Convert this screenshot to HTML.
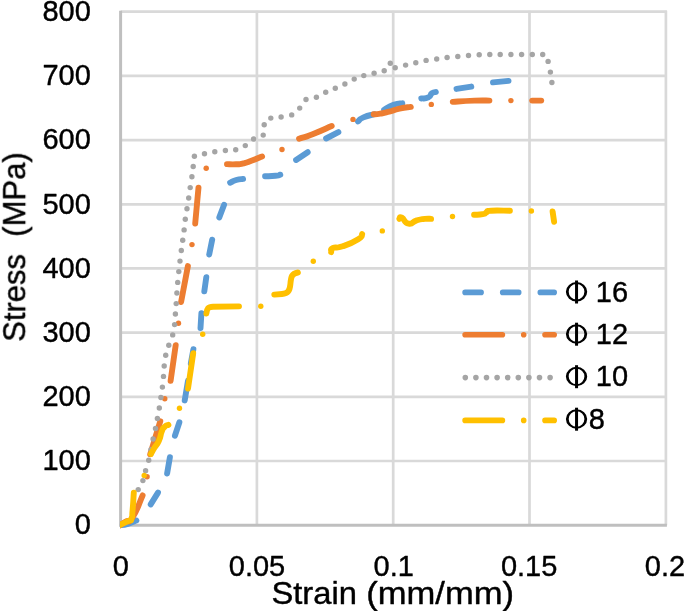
<!DOCTYPE html>
<html><head><meta charset="utf-8"><title>Stress-Strain</title>
<style>html,body{margin:0;padding:0;background:#fff}svg{display:block}text{font-family:"Liberation Sans",sans-serif;fill:#000;stroke:#000;stroke-width:0.4px;stroke-linejoin:round}</style></head><body>
<svg width="685" height="611" viewBox="0 0 685 611">
<rect width="685" height="611" fill="#fff"/>
<g stroke="#D9D9D9" stroke-width="2.7" fill="none"><line x1="120.6" y1="461.0" x2="666.9" y2="461.0"/><line x1="120.6" y1="396.8" x2="666.9" y2="396.8"/><line x1="120.6" y1="332.6" x2="666.9" y2="332.6"/><line x1="120.6" y1="268.4" x2="666.9" y2="268.4"/><line x1="120.6" y1="204.3" x2="666.9" y2="204.3"/><line x1="120.6" y1="140.1" x2="666.9" y2="140.1"/><line x1="120.6" y1="75.9" x2="666.9" y2="75.9"/><line x1="120.6" y1="11.7" x2="666.9" y2="11.7"/><line x1="256.9" y1="10.7" x2="256.9" y2="525.2"/><line x1="393.2" y1="10.7" x2="393.2" y2="525.2"/><line x1="529.5" y1="10.7" x2="529.5" y2="525.2"/><line x1="665.9" y1="10.7" x2="665.9" y2="525.2"/></g>
<g stroke="#BFBFBF" stroke-width="3.0" fill="none"><line x1="120.6" y1="10.7" x2="120.6" y2="526.6"/><line x1="119.2" y1="525.2" x2="666.9" y2="525.2"/></g>
<defs><clipPath id="pc"><rect x="119.9" y="0" width="560" height="532"/></clipPath></defs><g clip-path="url(#pc)">
<g fill="none" stroke-width="5.9" stroke-linecap="round" stroke-linejoin="round">
<path d="M118.7 525.5 C121.8 524.9 122.1 525.5 128.0 523.8 C133.9 522.1 133.6 521.6 136.4 520.5" stroke="#5B9BD5"/>
<path d="M150.7 504.4 L158.0 492.6" stroke="#5B9BD5"/>
<path d="M167.1 473.6 L169.9 457.2" stroke="#5B9BD5"/>
<path d="M174.9 435.8 L179.4 422.2" stroke="#5B9BD5"/>
<path d="M184.7 400.4 L188.0 380.8" stroke="#5B9BD5"/>
<path d="M190.8 363.6 L193.4 349.2" stroke="#5B9BD5"/>
<path d="M200.5 328.1 L201.4 313.2" stroke="#5B9BD5"/>
<path d="M204.3 291.3 L206.3 277.1" stroke="#5B9BD5"/>
<path d="M209.2 254.5 L212.2 239.7" stroke="#5B9BD5"/>
<path d="M219.3 217.4 L224.1 204.8" stroke="#5B9BD5"/>
<path d="M230.1 182.7 C232.2 181.8 231.9 181.3 236.2 180.0 C240.5 178.7 240.8 179.3 243.1 178.9" stroke="#5B9BD5"/>
<path d="M265.1 176.3 C268.6 176.1 270.4 176.3 275.5 175.8 C280.6 175.3 278.7 175.1 280.3 174.7" stroke="#5B9BD5"/>
<path d="M296.1 160.0 L307.7 152.2" stroke="#5B9BD5"/>
<path d="M326.1 138.5 L338.4 132.2" stroke="#5B9BD5"/>
<path d="M358.0 121.4 C359.8 120.1 358.0 119.8 363.5 117.4 C369.0 115.0 370.7 115.3 374.3 114.2" stroke="#5B9BD5"/>
<path d="M384.1 109.9 C387.3 108.2 387.5 107.0 393.6 104.8 C399.7 102.6 399.4 103.8 402.3 103.3" stroke="#5B9BD5"/>
<path d="M421.3 98.5 C423.6 98.1 424.7 99.2 428.3 97.4 C431.9 95.6 429.5 95.0 432.0 93.2 C434.5 91.4 434.6 92.4 435.8 92.0" stroke="#5B9BD5"/>
<path d="M456.5 88.9 L471.3 86.6" stroke="#5B9BD5"/>
<path d="M493.0 82.4 L508.5 80.9" stroke="#5B9BD5"/>
<path d="M117.6 526.6 C120.2 525.0 120.4 525.0 125.5 521.8 C130.6 518.6 127.1 525.7 132.8 516.9 C138.5 508.1 139.3 502.6 142.6 495.4" stroke="#ED7D31"/>
<path d="M150.2 454.3 L160.3 421.2" stroke="#ED7D31"/>
<path d="M170.6 380.8 L175.7 345.1" stroke="#ED7D31"/>
<path d="M181.1 302.0 L187.9 266.1" stroke="#ED7D31"/>
<path d="M195.2 223.6 L198.5 187.6" stroke="#ED7D31"/>
<path d="M227.0 164.1 C230.0 164.2 230.5 164.6 236.0 164.3 C241.5 164.0 238.2 164.6 243.5 163.3 C248.8 162.0 245.8 162.8 252.0 160.5 C258.2 158.2 258.7 157.8 262.1 156.5" stroke="#ED7D31"/>
<path d="M299.1 138.8 C303.8 137.1 302.3 138.2 313.2 133.9 C324.1 129.6 325.5 128.6 331.7 126.0" stroke="#ED7D31"/>
<path d="M373.7 114.3 C375.9 114.1 375.1 114.5 380.3 113.6 C385.5 112.7 382.8 113.3 389.2 111.6 C395.6 109.9 392.3 110.2 399.5 108.6 C406.7 107.0 407.0 107.5 410.8 106.9" stroke="#ED7D31"/>
<path d="M452.8 101.9 C460.0 101.4 462.2 101.0 474.4 100.6 C486.6 100.2 484.4 100.6 489.4 100.6" stroke="#ED7D31"/>
<path d="M532.2 100.6 L541.2 100.6" stroke="#ED7D31"/>
</g>
<g><circle cx="147.1" cy="476.8" r="2.70" fill="#ED7D31"/><circle cx="164.8" cy="398.7" r="2.70" fill="#ED7D31"/><circle cx="178.5" cy="323.3" r="2.70" fill="#ED7D31"/><circle cx="192.0" cy="244.6" r="2.70" fill="#ED7D31"/><circle cx="206.2" cy="168.2" r="2.70" fill="#ED7D31"/><circle cx="282.0" cy="149.5" r="2.70" fill="#ED7D31"/><circle cx="353.0" cy="119.4" r="2.70" fill="#ED7D31"/><circle cx="431.3" cy="104.4" r="2.70" fill="#ED7D31"/><circle cx="510.9" cy="100.6" r="2.70" fill="#ED7D31"/></g>
<g><circle cx="138.2" cy="489.6" r="2.70" fill="#A5A5A5"/><circle cx="142.9" cy="480.6" r="2.70" fill="#A5A5A5"/><circle cx="145.6" cy="470.7" r="2.70" fill="#A5A5A5"/><circle cx="148.7" cy="460.3" r="2.70" fill="#A5A5A5"/><circle cx="150.9" cy="449.7" r="2.70" fill="#A5A5A5"/><circle cx="153.1" cy="439.0" r="2.70" fill="#A5A5A5"/><circle cx="155.5" cy="428.5" r="2.70" fill="#A5A5A5"/><circle cx="157.4" cy="418.5" r="2.70" fill="#A5A5A5"/><circle cx="159.3" cy="408.0" r="2.70" fill="#A5A5A5"/><circle cx="160.9" cy="397.5" r="2.70" fill="#A5A5A5"/><circle cx="162.4" cy="387.1" r="2.70" fill="#A5A5A5"/><circle cx="163.5" cy="376.4" r="2.70" fill="#A5A5A5"/><circle cx="164.2" cy="366.0" r="2.70" fill="#A5A5A5"/><circle cx="165.7" cy="355.3" r="2.70" fill="#A5A5A5"/><circle cx="168.8" cy="345.2" r="2.70" fill="#A5A5A5"/><circle cx="172.7" cy="334.9" r="2.70" fill="#A5A5A5"/><circle cx="174.6" cy="324.6" r="2.70" fill="#A5A5A5"/><circle cx="175.4" cy="314.0" r="2.70" fill="#A5A5A5"/><circle cx="176.2" cy="303.6" r="2.70" fill="#A5A5A5"/><circle cx="176.9" cy="293.0" r="2.70" fill="#A5A5A5"/><circle cx="177.7" cy="282.4" r="2.70" fill="#A5A5A5"/><circle cx="178.8" cy="271.6" r="2.70" fill="#A5A5A5"/><circle cx="180.0" cy="261.1" r="2.70" fill="#A5A5A5"/><circle cx="181.3" cy="250.5" r="2.70" fill="#A5A5A5"/><circle cx="182.7" cy="240.3" r="2.70" fill="#A5A5A5"/><circle cx="184.1" cy="229.9" r="2.70" fill="#A5A5A5"/><circle cx="185.3" cy="219.3" r="2.70" fill="#A5A5A5"/><circle cx="187.0" cy="208.8" r="2.70" fill="#A5A5A5"/><circle cx="188.7" cy="198.0" r="2.70" fill="#A5A5A5"/><circle cx="190.2" cy="187.6" r="2.70" fill="#A5A5A5"/><circle cx="191.9" cy="176.8" r="2.70" fill="#A5A5A5"/><circle cx="193.2" cy="166.5" r="2.70" fill="#A5A5A5"/><circle cx="194.4" cy="156.2" r="2.70" fill="#A5A5A5"/><circle cx="204.5" cy="153.7" r="2.70" fill="#A5A5A5"/><circle cx="214.8" cy="151.8" r="2.70" fill="#A5A5A5"/><circle cx="225.4" cy="150.5" r="2.70" fill="#A5A5A5"/><circle cx="235.7" cy="149.8" r="2.70" fill="#A5A5A5"/><circle cx="245.3" cy="145.6" r="2.70" fill="#A5A5A5"/><circle cx="253.6" cy="139.0" r="2.70" fill="#A5A5A5"/><circle cx="263.2" cy="135.1" r="2.70" fill="#A5A5A5"/><circle cx="264.2" cy="124.7" r="2.70" fill="#A5A5A5"/><circle cx="270.8" cy="118.1" r="2.70" fill="#A5A5A5"/><circle cx="281.1" cy="117.0" r="2.70" fill="#A5A5A5"/><circle cx="291.7" cy="114.9" r="2.70" fill="#A5A5A5"/><circle cx="299.7" cy="108.1" r="2.70" fill="#A5A5A5"/><circle cx="306.0" cy="99.5" r="2.70" fill="#A5A5A5"/><circle cx="316.4" cy="97.2" r="2.70" fill="#A5A5A5"/><circle cx="325.7" cy="92.3" r="2.70" fill="#A5A5A5"/><circle cx="335.3" cy="88.2" r="2.70" fill="#A5A5A5"/><circle cx="344.9" cy="84.0" r="2.70" fill="#A5A5A5"/><circle cx="354.2" cy="79.1" r="2.70" fill="#A5A5A5"/><circle cx="363.8" cy="75.6" r="2.70" fill="#A5A5A5"/><circle cx="374.1" cy="73.2" r="2.70" fill="#A5A5A5"/><circle cx="384.2" cy="70.7" r="2.70" fill="#A5A5A5"/><circle cx="390.3" cy="63.3" r="2.70" fill="#A5A5A5"/><circle cx="395.2" cy="67.8" r="2.70" fill="#A5A5A5"/><circle cx="405.6" cy="65.1" r="2.70" fill="#A5A5A5"/><circle cx="415.8" cy="62.8" r="2.70" fill="#A5A5A5"/><circle cx="426.1" cy="60.4" r="2.70" fill="#A5A5A5"/><circle cx="436.7" cy="59.0" r="2.70" fill="#A5A5A5"/><circle cx="447.1" cy="57.5" r="2.70" fill="#A5A5A5"/><circle cx="457.8" cy="56.5" r="2.70" fill="#A5A5A5"/><circle cx="468.5" cy="55.5" r="2.70" fill="#A5A5A5"/><circle cx="479.2" cy="54.7" r="2.70" fill="#A5A5A5"/><circle cx="489.8" cy="54.5" r="2.70" fill="#A5A5A5"/><circle cx="500.2" cy="54.5" r="2.70" fill="#A5A5A5"/><circle cx="510.9" cy="54.5" r="2.70" fill="#A5A5A5"/><circle cx="521.6" cy="54.5" r="2.70" fill="#A5A5A5"/><circle cx="532.3" cy="54.5" r="2.70" fill="#A5A5A5"/><circle cx="542.7" cy="54.5" r="2.70" fill="#A5A5A5"/><circle cx="548.1" cy="61.4" r="2.70" fill="#A5A5A5"/><circle cx="550.4" cy="72.1" r="2.70" fill="#A5A5A5"/><circle cx="551.9" cy="82.5" r="2.70" fill="#A5A5A5"/></g>
<g fill="none" stroke-width="5.9" stroke-linecap="round" stroke-linejoin="round">
<path d="M117.6 525.9 C121.2 524.3 123.8 523.5 128.4 521.0 C133.0 518.5 130.1 522.2 131.5 518.5 C132.9 514.8 131.8 518.6 132.6 510.0 C133.4 501.4 133.4 498.5 133.8 492.7" stroke="#FFC000"/>
<path d="M151.0 454.0 C152.1 452.0 151.7 452.3 154.3 448.0 C156.9 443.7 156.3 446.5 158.8 441.0 C161.3 435.5 159.9 436.2 161.8 431.5 C163.7 426.8 162.4 429.0 164.6 426.8 C166.8 424.6 167.1 425.5 168.4 424.8" stroke="#FFC000"/>
<path d="M188.0 388.6 L193.2 353.2" stroke="#FFC000"/>
<path d="M206.4 313.5 C207 308.5 208 306.8 213 306.7 L239.0 306.4" stroke="#FFC000"/>
<path d="M274.3 294.6 L282 294 C288 293.5 289.8 291 290.4 284 C291 277 291.5 273.5 297.9 272.5" stroke="#FFC000"/>
<path d="M331.2 252.1 C331.8 250.7 329.3 249.9 333.1 248.0 C336.9 246.1 334.3 249.2 342.7 246.3 C351.1 243.4 351.7 243.3 358.2 239.2 C364.7 235.1 360.8 235.7 362.1 234.0" stroke="#FFC000"/>
<path d="M399.4 218.9 C400.2 218.5 398.8 216.1 401.9 217.7 C405.0 219.3 403.7 222.7 408.6 223.6 C413.5 224.5 411.3 222.0 416.7 220.4 C422.1 218.8 420.0 219.4 424.8 218.9 C429.6 218.4 429.0 218.9 431.1 218.9" stroke="#FFC000"/>
<path d="M474.1 214.8 C477.0 214.6 478.4 215.1 482.7 214.2 C487.0 213.3 484.3 213.2 487.1 212.0 C489.9 210.8 483.6 211.1 491.2 210.7 C498.8 210.3 503.7 210.8 509.9 210.8" stroke="#FFC000"/>
<path d="M552.6 211.5 L554.1 221.8" stroke="#FFC000"/>
</g>
<g><circle cx="144.2" cy="475.4" r="2.70" fill="#FFC000"/><circle cx="179.5" cy="408.2" r="2.70" fill="#FFC000"/><circle cx="202.7" cy="334.2" r="2.70" fill="#FFC000"/><circle cx="260.8" cy="306.2" r="2.70" fill="#FFC000"/><circle cx="313.3" cy="261.2" r="2.70" fill="#FFC000"/><circle cx="382.3" cy="230.9" r="2.70" fill="#FFC000"/><circle cx="452.5" cy="216.5" r="2.70" fill="#FFC000"/><circle cx="531.4" cy="211.0" r="2.70" fill="#FFC000"/></g>
</g>
<g fill="none" stroke-width="5.6" stroke-linecap="round">
<path d="M465.1 292.4H554.2" stroke="#5B9BD5" stroke-dasharray="16 21.6"/>
<path d="M465.1 334.8H554.2" stroke="#ED7D31" stroke-dasharray="37.3 21.3 0 21.3"/>
<path d="M465.3 377.6H552" stroke="#A5A5A5" stroke-dasharray="0 10.6"/>
<path d="M465.1 420.4H554.2" stroke="#FFC000" stroke-dasharray="37.3 21.3 0 21.3"/>
</g>
<g font-size="29.0" style="filter:grayscale(1)">
<g transform="translate(565.9 301.7)"><path fill-rule="evenodd" d="M0 -9.9a10.65 9.7 0 1 0 21.3 0a10.65 9.7 0 1 0 -21.3 0ZM2.8 -9.9a7.85 7.75 0 1 1 15.7 0a7.85 7.75 0 1 1 -15.7 0Z"/><rect x="9.15" y="-21.2" width="3" height="23"/></g><text x="595.8" y="301.7">16</text>
<g transform="translate(565.9 343.9)"><path fill-rule="evenodd" d="M0 -9.9a10.65 9.7 0 1 0 21.3 0a10.65 9.7 0 1 0 -21.3 0ZM2.8 -9.9a7.85 7.75 0 1 1 15.7 0a7.85 7.75 0 1 1 -15.7 0Z"/><rect x="9.15" y="-21.2" width="3" height="23"/></g><text x="595.8" y="343.9">12</text>
<g transform="translate(565.9 386.4)"><path fill-rule="evenodd" d="M0 -9.9a10.65 9.7 0 1 0 21.3 0a10.65 9.7 0 1 0 -21.3 0ZM2.8 -9.9a7.85 7.75 0 1 1 15.7 0a7.85 7.75 0 1 1 -15.7 0Z"/><rect x="9.15" y="-21.2" width="3" height="23"/></g><text x="595.8" y="386.4">10</text>
<g transform="translate(565.9 428.9)"><path fill-rule="evenodd" d="M0 -9.9a10.65 9.7 0 1 0 21.3 0a10.65 9.7 0 1 0 -21.3 0ZM2.8 -9.9a7.85 7.75 0 1 1 15.7 0a7.85 7.75 0 1 1 -15.7 0Z"/><rect x="9.15" y="-21.2" width="3" height="23"/></g><text x="588.7" y="428.9">8</text>
<text x="90.8" y="534.4" text-anchor="end">0</text>
<text x="90.8" y="470.2" text-anchor="end">100</text>
<text x="90.8" y="406.0" text-anchor="end">200</text>
<text x="90.8" y="341.8" text-anchor="end">300</text>
<text x="90.8" y="277.6" text-anchor="end">400</text>
<text x="90.8" y="213.5" text-anchor="end">500</text>
<text x="90.8" y="149.3" text-anchor="end">600</text>
<text x="90.8" y="85.1" text-anchor="end">700</text>
<text x="90.8" y="20.9" text-anchor="end">800</text>
<text x="112.7" y="575.5">0</text>
<text x="228.8" y="575.5">0.05</text>
<text x="373.6" y="575.5">0.1</text>
<text x="500.9" y="575.5">0.15</text>
<text x="644.8" y="575.5">0.2</text>
</g>
<g font-size="31" style="filter:grayscale(1)"><text transform="translate(271.4 604.2) scale(1.056 1)">Strain</text><text transform="translate(366.2 604.2) scale(1.116 1)">(mm/mm)</text>
<text transform="translate(25.2 341.8) rotate(-90) scale(0.985 1)" font-size="31.5" xml:space="preserve">Stress  (MPa)</text></g>
</svg></body></html>
